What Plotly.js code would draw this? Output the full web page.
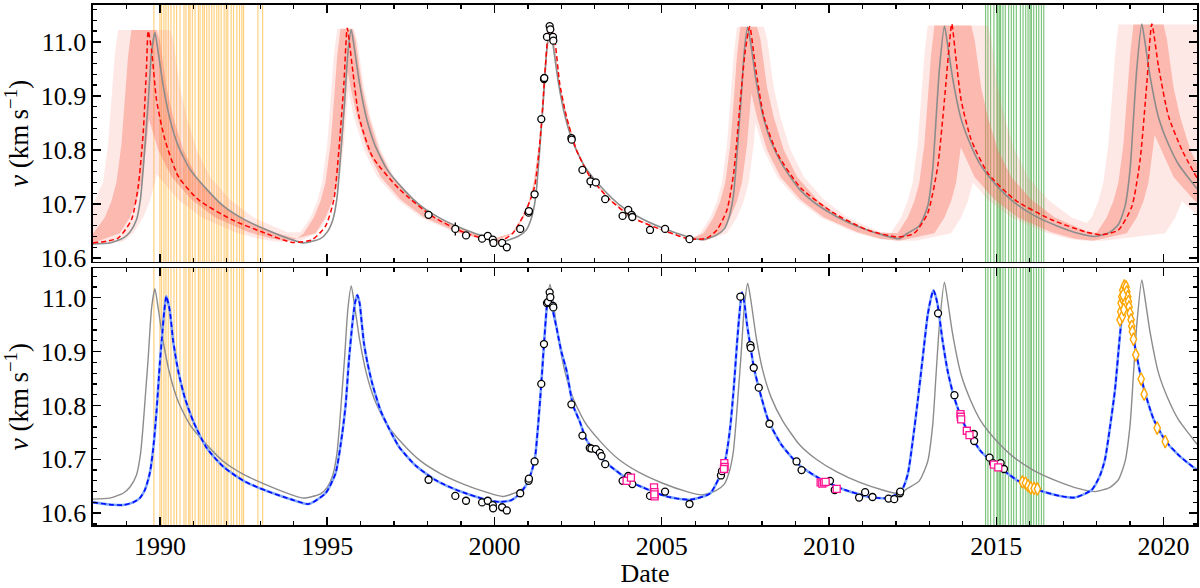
<!DOCTYPE html>
<html>
<head>
<meta charset="utf-8">
<script src="https://cdn.plot.ly/plotly-3.0.1.min.js"></script>
<style>
  body { margin: 0; background: #fff; }
  #plot { width: 1200px; height: 588px; }
</style>
</head>
<body>
<div id="plot"></div>
<script>
// ---- observation dates marked by vertical lines ----
const orangeDates = [1989.82, 1990.0, 1990.05, 1990.12, 1990.18, 1990.25, 1990.33, 1990.42, 1990.5, 1990.6,
    1990.72, 1990.78, 1990.86, 1990.9, 1990.97, 1991.05, 1991.15, 1991.2, 1991.28, 1991.33,
    1991.4, 1991.47, 1991.55, 1991.62, 1991.7, 1991.76, 1991.83, 1991.92, 1991.98, 1992.03,
    1992.13, 1992.2, 1992.3, 1992.38, 1992.45, 1992.5, 1992.93, 1993.07]
const greenDates = [2014.68, 2014.75, 2014.83, 2014.93, 2015.02, 2015.05, 2015.1, 2015.13, 2015.2, 2015.27,
    2015.37, 2015.45, 2015.52, 2015.6, 2015.72, 2015.8, 2015.88, 2015.95, 2016.01, 2016.05,
    2016.12, 2016.2, 2016.27, 2016.35, 2016.42]

// ---- top panel: posterior band (outer / inner envelopes) ----
const outerHiX = [
    1988.0, 1988.3, 1988.45, 1988.55, 1988.65, 1988.75, 1990.3, 1990.4, 1990.5, 1990.6, 1990.8, 1991.1, 1991.5, 1992.1, 1992.8, 1993.8,
    1994.2, 1994.5, 1994.7, 1994.85, 1995.0, 1995.1, 1995.2, 1995.3, 1995.8, 1995.9, 1996.0, 1996.1, 1996.3, 1996.6, 1997.0, 1997.6, 1998.3, 1999.3, 2000.0,
    2000.5, 2000.82, 2001.02, 2001.17, 2001.32, 2001.42, 2001.52, 2001.62, 2001.68, 2001.78, 2001.88, 2001.98, 2002.18, 2002.48, 2002.88, 2003.48, 2004.18, 2005.18, 2005.88,
    2006.15, 2006.45, 2006.65, 2006.8, 2006.95, 2007.05, 2007.15, 2007.25, 2008.05, 2008.15, 2008.25, 2008.35, 2008.55, 2008.85, 2009.25, 2009.85, 2010.55, 2011.55,
    2011.85, 2012.15, 2012.35, 2012.5, 2012.65, 2012.75, 2012.85, 2012.95, 2014.75, 2014.85, 2014.95, 2015.05, 2015.25, 2015.55, 2015.95, 2016.55, 2017.25,
    2017.7, 2017.85, 2018.05, 2018.2, 2018.35, 2018.45, 2018.55, 2018.65, 2021.0]
const outerHiV = [
    10.70, 10.74, 10.81, 10.89, 10.975, 11.022, 11.022, 11.003, 10.96, 10.915, 10.86, 10.80, 10.75, 10.708, 10.675, 10.648,
    10.648, 10.675, 10.705, 10.74, 10.81, 10.89, 10.975, 11.024, 11.024, 11.003, 10.96, 10.915, 10.86, 10.80, 10.75, 10.708, 10.675, 10.648, 10.636,
    10.646, 10.675, 10.705, 10.74, 10.81, 10.89, 10.975, 11.028, 11.028, 11.005, 10.96, 10.915, 10.86, 10.80, 10.75, 10.708, 10.675, 10.648, 10.636,
    10.646, 10.675, 10.705, 10.74, 10.81, 10.89, 10.975, 11.028, 11.028, 11.005, 10.96, 10.915, 10.86, 10.80, 10.75, 10.708, 10.675, 10.648,
    10.646, 10.675, 10.705, 10.74, 10.81, 10.89, 10.975, 11.03, 11.03, 11.005, 10.96, 10.915, 10.86, 10.80, 10.75, 10.708, 10.675,
    10.665, 10.675, 10.705, 10.74, 10.81, 10.89, 10.975, 11.032, 11.032]
const outerLoX = [
    1988.0, 1988.9, 1989.2, 1989.5, 1989.7, 1989.85, 1989.9, 1990.55, 1991.25, 1992.25, 1992.95, 1993.5,
    1994.2, 1994.7, 1995.0, 1995.2, 1995.35, 1995.5, 1995.63, 1995.8, 1996.1, 1996.5, 1997.1, 1997.8, 1998.8, 1999.5, 2000.0,
    2000.58, 2000.88, 2001.08, 2001.23, 2001.38, 2001.48, 2001.58, 2001.65, 2001.72, 2001.82, 2001.92, 2002.12, 2002.42, 2002.82, 2003.42, 2004.12, 2005.12, 2005.82, 2006.3,
    2006.95, 2007.25, 2007.45, 2007.6, 2007.75, 2007.8, 2008.05, 2008.45, 2009.05, 2009.75, 2010.75, 2011.45, 2012.0,
    2012.6, 2013.65, 2013.95, 2014.15, 2014.3, 2014.75, 2015.45, 2016.45, 2017.15, 2017.6,
    2018.2, 2020.05, 2020.35, 2020.55, 2021.0]
const outerLoV = [
    10.626, 10.63, 10.646, 10.675, 10.705, 10.74, 10.755, 10.708, 10.675, 10.648, 10.636, 10.630,
    10.632, 10.646, 10.675, 10.705, 10.74, 10.81, 10.91, 10.86, 10.80, 10.75, 10.708, 10.675, 10.648, 10.636, 10.630,
    10.646, 10.675, 10.705, 10.74, 10.81, 10.89, 10.975, 11.015, 11.005, 10.96, 10.915, 10.86, 10.80, 10.75, 10.708, 10.675, 10.648, 10.636, 10.632,
    10.646, 10.675, 10.705, 10.74, 10.81, 10.85, 10.80, 10.75, 10.708, 10.675, 10.648, 10.636, 10.632,
    10.632, 10.646, 10.675, 10.705, 10.74, 10.708, 10.675, 10.648, 10.636, 10.632,
    10.632, 10.646, 10.675, 10.705, 10.68]
const innerHiX = [
    1988.0, 1988.35, 1988.55, 1988.7, 1988.85, 1988.95, 1989.05, 1989.15, 1989.9, 1990.0, 1990.1, 1990.2, 1990.4, 1990.7, 1991.1, 1991.7, 1992.4, 1993.4, 1994.1,
    1994.3, 1994.6, 1994.8, 1994.95, 1995.1, 1995.2, 1995.3, 1995.4, 1995.75, 1995.85, 1995.95, 1996.05, 1996.25, 1996.55, 1996.95, 1997.55, 1998.25, 1999.25, 1999.95,
    2000.53, 2000.83, 2001.03, 2001.18, 2001.33, 2001.43, 2001.53, 2001.63, 2001.67, 2001.77, 2001.87, 2001.97, 2002.17, 2002.47, 2002.87, 2003.47, 2004.17, 2005.17, 2005.87,
    2006.25, 2006.55, 2006.75, 2006.9, 2007.05, 2007.15, 2007.25, 2007.35, 2007.85, 2007.95, 2008.05, 2008.15, 2008.35, 2008.65, 2009.05, 2009.65, 2010.35, 2011.35,
    2012.05, 2012.35, 2012.55, 2012.7, 2012.85, 2012.95, 2013.05, 2013.15, 2014.25, 2014.35, 2014.45, 2014.55, 2014.75, 2015.05, 2015.45, 2016.05, 2016.75, 2017.75,
    2018.0, 2018.3, 2018.5, 2018.65, 2018.8, 2018.9, 2019.0, 2019.1, 2020.0, 2020.1, 2020.2, 2020.3, 2020.5, 2020.8, 2021.0]
const innerHiV = [
    10.645, 10.675, 10.705, 10.74, 10.81, 10.89, 10.975, 11.022, 11.022, 11.003, 10.96, 10.915, 10.86, 10.80, 10.75, 10.708, 10.675, 10.648, 10.636,
    10.646, 10.675, 10.705, 10.74, 10.81, 10.89, 10.975, 11.024, 11.024, 11.003, 10.96, 10.915, 10.86, 10.80, 10.75, 10.708, 10.675, 10.648, 10.636,
    10.646, 10.675, 10.705, 10.74, 10.81, 10.89, 10.975, 11.028, 11.028, 11.005, 10.96, 10.915, 10.86, 10.80, 10.75, 10.708, 10.675, 10.648, 10.636,
    10.646, 10.675, 10.705, 10.74, 10.81, 10.89, 10.975, 11.028, 11.028, 11.005, 10.96, 10.915, 10.86, 10.80, 10.75, 10.708, 10.675, 10.648,
    10.646, 10.675, 10.705, 10.74, 10.81, 10.89, 10.975, 11.03, 11.03, 11.005, 10.96, 10.915, 10.86, 10.80, 10.75, 10.708, 10.675, 10.648,
    10.647, 10.675, 10.705, 10.74, 10.81, 10.89, 10.975, 11.032, 11.032, 11.005, 10.96, 10.915, 10.86, 10.80, 10.775]
const innerLoX = [
    1988.0, 1988.8, 1989.1, 1989.3, 1989.45, 1989.6, 1989.67, 1989.95, 1990.35, 1990.95, 1991.65, 1992.65, 1993.35, 1993.8,
    1994.65, 1994.95, 1995.15, 1995.3, 1995.45, 1995.55, 1995.62, 1995.7, 1995.9, 1996.2, 1996.6, 1997.2, 1997.9, 1998.9, 1999.6, 2000.0,
    2000.57, 2000.87, 2001.07, 2001.22, 2001.37, 2001.47, 2001.57, 2001.65, 2001.73, 2001.83, 2001.93, 2002.13, 2002.43, 2002.83, 2003.43, 2004.13, 2005.13, 2005.83, 2006.3,
    2006.75, 2007.05, 2007.25, 2007.4, 2007.55, 2007.68, 2007.85, 2008.15, 2008.55, 2009.15, 2009.85, 2010.85, 2011.55, 2012.1,
    2013.15, 2013.45, 2013.65, 2013.8, 2013.94, 2014.35, 2014.95, 2015.65, 2016.65, 2017.35, 2017.9,
    2018.9, 2019.2, 2019.4, 2019.55, 2019.7, 2019.73, 2020.3, 2020.9, 2021.0]
const innerLoV = [
    10.628, 10.646, 10.675, 10.705, 10.74, 10.81, 10.857, 10.80, 10.75, 10.708, 10.675, 10.648, 10.636, 10.631,
    10.646, 10.675, 10.705, 10.74, 10.81, 10.89, 10.945, 10.915, 10.86, 10.80, 10.75, 10.708, 10.675, 10.648, 10.636, 10.631,
    10.646, 10.675, 10.705, 10.74, 10.81, 10.89, 10.975, 11.018, 11.005, 10.96, 10.915, 10.86, 10.80, 10.75, 10.708, 10.675, 10.648, 10.636, 10.632,
    10.646, 10.675, 10.705, 10.74, 10.81, 10.905, 10.86, 10.80, 10.75, 10.708, 10.675, 10.648, 10.636, 10.632,
    10.646, 10.675, 10.705, 10.74, 10.805, 10.75, 10.708, 10.675, 10.648, 10.636, 10.632,
    10.646, 10.675, 10.705, 10.74, 10.81, 10.828, 10.75, 10.708, 10.703]

// ---- model curves ----
const grayX = [
    1988.0, 1988.5, 1988.9, 1989.1, 1989.3, 1989.42, 1989.5, 1989.58, 1989.65, 1989.75, 1989.85, 1989.95, 1990.1, 1990.3, 1990.55, 1990.9, 1991.4, 1991.9, 1992.5, 1993.2, 1993.9, 1994.3,
    1994.8, 1995.0, 1995.17, 1995.29, 1995.37, 1995.45, 1995.52, 1995.62, 1995.72, 1995.82, 1995.97, 1996.17, 1996.42, 1996.77, 1997.27, 1997.77, 1998.37, 1999.07, 1999.8, 2000.25,
    2000.7, 2000.95, 2001.11, 2001.23, 2001.31, 2001.39, 2001.46, 2001.56, 2001.66, 2001.76, 2001.91, 2002.11, 2002.36, 2002.71, 2003.21, 2003.71, 2004.31, 2005.01, 2005.75, 2006.2,
    2006.62, 2006.87, 2007.02, 2007.14, 2007.22, 2007.3, 2007.37, 2007.47, 2007.57, 2007.67, 2007.82, 2008.02, 2008.27, 2008.62, 2009.12, 2009.62, 2010.22, 2010.92, 2011.65, 2012.1,
    2012.35, 2012.7, 2012.95, 2013.1, 2013.2, 2013.3, 2013.45, 2013.55, 2013.7, 2013.95, 2014.25, 2014.55, 2015.0, 2015.5, 2016.1, 2016.8, 2017.5, 2017.95,
    2018.4, 2018.65, 2018.85, 2019.0, 2019.1, 2019.2, 2019.35, 2019.45, 2019.6, 2019.85, 2020.15, 2020.45, 2020.75, 2021.0]
const grayV = [
    10.626, 10.628, 10.637, 10.648, 10.671, 10.71, 10.764, 10.83, 10.888, 10.98, 11.017, 10.98, 10.918, 10.857, 10.807, 10.764, 10.727, 10.696, 10.672, 10.652, 10.635, 10.628,
    10.636, 10.648, 10.671, 10.71, 10.764, 10.83, 10.888, 10.98, 11.022, 10.985, 10.922, 10.86, 10.81, 10.766, 10.728, 10.698, 10.674, 10.654, 10.638, 10.631,
    10.640, 10.652, 10.675, 10.712, 10.766, 10.832, 10.89, 10.982, 11.025, 10.99, 10.925, 10.862, 10.812, 10.768, 10.73, 10.70, 10.676, 10.656, 10.64, 10.634,
    10.642, 10.654, 10.677, 10.714, 10.768, 10.834, 10.892, 10.984, 11.027, 10.993, 10.928, 10.865, 10.815, 10.771, 10.727, 10.700, 10.677, 10.657, 10.642, 10.636,
    10.646, 10.66, 10.696, 10.764, 10.857, 10.949, 11.029, 10.993, 10.931, 10.857, 10.807, 10.770, 10.735, 10.705, 10.68, 10.66, 10.645, 10.640,
    10.648, 10.662, 10.696, 10.764, 10.857, 10.95, 11.033, 10.997, 10.935, 10.86, 10.81, 10.773, 10.748, 10.728]
const redX = [
    1988.0, 1988.75, 1989.15, 1989.35, 1989.5, 1989.6, 1989.65, 1989.75, 1989.9, 1990.15, 1990.55, 1991.15, 1992.15, 1993.15, 1993.95,
    1994.55, 1994.95, 1995.2, 1995.35, 1995.5, 1995.6, 1995.75, 1995.95, 1996.35, 1997.15, 1998.15, 1999.15, 2000.15,
    2000.55, 2000.95, 2001.2, 2001.4, 2001.5, 2001.6, 2001.65, 2001.8, 2001.95, 2002.15, 2002.45, 2002.85, 2003.45, 2004.15, 2005.15, 2005.85,
    2006.35, 2006.65, 2006.95, 2007.15, 2007.35, 2007.5, 2007.63, 2007.8, 2008.05, 2008.45, 2009.15, 2010.15, 2011.15, 2012.05,
    2012.55, 2012.95, 2013.25, 2013.45, 2013.6, 2013.67, 2013.8, 2013.95, 2014.25, 2014.75, 2015.55, 2016.65, 2017.65, 2018.15,
    2018.65, 2019.05, 2019.3, 2019.5, 2019.65, 2019.85, 2020.15, 2020.55, 2021.0]
const redV = [
    10.628, 10.637, 10.671, 10.732, 10.831, 10.954, 11.02, 10.985, 10.892, 10.819, 10.751, 10.708, 10.671, 10.646, 10.629,
    10.634, 10.659, 10.708, 10.80, 10.923, 11.025, 10.954, 10.862, 10.788, 10.728, 10.677, 10.646, 10.631,
    10.646, 10.689, 10.732, 10.843, 10.935, 11.015, 11.031, 11.003, 10.923, 10.862, 10.80, 10.751, 10.708, 10.674, 10.649, 10.635,
    10.637, 10.652, 10.689, 10.757, 10.892, 10.985, 11.028, 10.954, 10.862, 10.794, 10.73, 10.683, 10.652, 10.639,
    10.646, 10.683, 10.77, 10.892, 10.997, 11.033, 10.966, 10.892, 10.819, 10.757, 10.708, 10.671, 10.649, 10.643,
    10.652, 10.695, 10.782, 10.923, 11.033, 10.954, 10.862, 10.80, 10.748]
const blueX = [
    1988.0, 1988.5, 1988.9, 1989.2, 1989.4, 1989.55, 1989.7, 1989.8, 1989.9, 1990.0, 1990.08, 1990.13, 1990.19, 1990.25, 1990.3, 1990.4, 1990.55, 1990.75, 1991.0, 1991.4, 1991.9, 1992.5, 1993.2, 1994.0,
    1994.45, 1994.95, 1995.25, 1995.45, 1995.55, 1995.65, 1995.75, 1995.83, 1995.9, 1995.97, 1996.03, 1996.1, 1996.2, 1996.35, 1996.6, 1996.85, 1997.15, 1997.65, 1998.25, 1998.95, 1999.7, 2000.15,
    2000.5, 2000.77, 2001.0, 2001.2, 2001.3, 2001.4, 2001.48, 2001.56, 2001.62, 2001.68, 2001.75, 2001.85, 2002.0, 2002.15, 2002.35, 2002.55, 2002.75, 2003.0, 2003.35, 2004.15, 2005.15, 2005.85,
    2006.45, 2006.85, 2006.95, 2007.05, 2007.15, 2007.25, 2007.33, 2007.4, 2007.47, 2007.55, 2007.65, 2007.75, 2007.9, 2008.2, 2008.6, 2009.1, 2009.7, 2010.4, 2011.2, 2011.75,
    2012.15, 2012.35, 2012.5, 2012.65, 2012.8, 2012.95, 2013.05, 2013.12, 2013.18, 2013.25, 2013.4, 2013.55, 2013.75, 2014.05, 2014.55, 2015.1, 2015.65, 2016.3, 2016.9, 2017.35,
    2017.85, 2018.1, 2018.25, 2018.4, 2018.55, 2018.68, 2018.77, 2018.85, 2018.92, 2019.0, 2019.1, 2019.3, 2019.45, 2019.7, 2020.05, 2020.5, 2021.0]
const blueV = [
    10.620, 10.616, 10.615, 10.620, 10.628, 10.643, 10.675, 10.72, 10.79, 10.88, 10.94, 10.975, 11.003, 10.99, 10.974, 10.918, 10.863, 10.813, 10.770, 10.721, 10.686, 10.660, 10.641, 10.624,
    10.617, 10.637, 10.674, 10.748, 10.80, 10.884, 10.95, 10.99, 11.005, 10.99, 10.955, 10.915, 10.88, 10.84, 10.79, 10.757, 10.723, 10.688, 10.661, 10.641, 10.626, 10.621,
    10.624, 10.637, 10.658, 10.698, 10.76, 10.84, 10.914, 10.98, 11.011, 11.0, 10.975, 10.946, 10.90, 10.866, 10.80, 10.77, 10.736, 10.715, 10.693, 10.656, 10.631, 10.625,
    10.637, 10.686, 10.715, 10.761, 10.83, 10.915, 10.975, 11.01, 10.99, 10.95, 10.91, 10.872, 10.833, 10.77, 10.725, 10.69, 10.665, 10.645, 10.63, 10.628,
    10.640, 10.671, 10.733, 10.807, 10.888, 10.968, 11.0, 11.014, 11.005, 10.986, 10.918, 10.863, 10.813, 10.764, 10.714, 10.685, 10.660, 10.642, 10.632, 10.629,
    10.643, 10.67, 10.70, 10.76, 10.83, 10.92, 10.975, 11.012, 11.0, 10.96, 10.925, 10.86, 10.823, 10.775, 10.735, 10.705, 10.68]

// ---- measurements ----
const topObsX = [1998.03, 1998.83, 1999.15, 1999.63, 1999.80, 1999.95, 1999.97, 2000.23, 2000.37, 2000.77,
    2001.02, 2001.03, 2001.20, 2001.40, 2001.48, 2001.49, 2001.57, 2001.65, 2001.67, 2001.75,
    2001.76, 2002.30, 2002.31, 2002.63, 2002.87, 2003.03, 2003.31, 2003.83, 2004.00, 2004.10,
    2004.12, 2004.65, 2005.10, 2005.83]
const topObsV = [10.680, 10.654, 10.642, 10.636, 10.641, 10.634, 10.628, 10.628, 10.620, 10.654,
    10.684, 10.687, 10.718, 10.857, 10.931, 10.933, 11.009, 11.029, 11.023, 11.009,
    11.002, 10.822, 10.819, 10.763, 10.742, 10.740, 10.709, 10.678, 10.689, 10.680,
    10.676, 10.652, 10.654, 10.635]
const topObsErr = [0.004, 0.012, 0.004, 0.004, 0.004, 0.004, 0.004, 0.004, 0.004, 0.004,
    0.004, 0.004, 0.004, 0.004, 0.004, 0.004, 0.004, 0.004, 0.004, 0.004,
    0.004, 0.004, 0.004, 0.004, 0.012, 0.004, 0.004, 0.004, 0.004, 0.004,
    0.004, 0.004, 0.004, 0.004]
const botObsX = [1998.03, 1998.83, 1999.15, 1999.63, 1999.80, 1999.95, 1999.96, 2000.23, 2000.37, 2000.77,
    2001.02, 2001.03, 2001.20, 2001.40, 2001.48, 2001.57, 2001.60, 2001.65, 2001.67, 2001.75,
    2001.76, 2002.30, 2002.63, 2002.85, 2002.90, 2003.03, 2003.15, 2003.20, 2003.31, 2003.83,
    2004.00, 2004.12, 2004.65, 2005.10, 2005.83, 2006.77, 2006.80, 2007.35, 2007.65, 2007.66,
    2007.75, 2007.90, 2008.22, 2009.03, 2009.18, 2010.03, 2010.17, 2010.90, 2011.08, 2011.30,
    2011.78, 2011.95, 2012.12, 2012.13, 2013.26, 2013.75, 2014.33, 2014.34, 2014.80, 2014.90,
    2015.13, 2015.23]
const botObsV = [10.662, 10.632, 10.623, 10.620, 10.623, 10.615, 10.609, 10.611, 10.605, 10.637,
    10.660, 10.664, 10.696, 10.840, 10.914, 10.990, 10.992, 11.010, 11.001, 10.985,
    10.982, 10.802, 10.744, 10.721, 10.720, 10.719, 10.712, 10.706, 10.691, 10.660,
    10.669, 10.654, 10.632, 10.640, 10.617, 10.670, 10.678, 11.002, 10.912, 10.907,
    10.870, 10.833, 10.766, 10.696, 10.680, 10.660, 10.643, 10.629, 10.639, 10.630,
    10.627, 10.626, 10.637, 10.640, 10.971, 10.819, 10.747, 10.734, 10.703, 10.693,
    10.693, 10.682]
const squareX = [2003.95, 2004.08, 2004.77, 2004.78, 2004.79, 2004.78, 2006.87, 2006.88, 2006.86, 2009.75,
    2009.80, 2009.85, 2009.90, 2010.23, 2013.93, 2013.94, 2013.95, 2014.12, 2014.20, 2014.93, 2015.06]
const squareV = [10.660, 10.666, 10.648, 10.639, 10.631, 10.635, 10.693, 10.686, 10.682, 10.657,
    10.655, 10.657, 10.658, 10.645, 10.784, 10.779, 10.774, 10.753, 10.745, 10.690, 10.685]
const diamondX = [2015.78, 2015.87, 2015.95, 2016.03, 2016.13, 2016.23,
    2018.70, 2018.72, 2018.73, 2018.75, 2018.78, 2018.80, 2018.83, 2018.85, 2018.88, 2018.90,
    2018.93, 2018.95, 2018.97, 2019.00, 2019.03, 2019.05, 2019.07, 2019.10,
    2018.77, 2018.81, 2018.79, 2019.17, 2019.33, 2019.42, 2019.81, 2020.05]
const diamondV = [10.658, 10.656, 10.651, 10.647, 10.646, 10.645,
    10.959, 10.974, 10.990, 11.002, 11.014, 10.995, 11.022, 10.990, 11.020, 11.011,
    11.002, 10.993, 10.983, 10.971, 10.959, 10.947, 10.937, 10.923,
    10.966, 10.978, 11.005, 10.894, 10.849, 10.821, 10.758, 10.733]

function band(hiX, hiV, loX, loV){
    return {
        x: hiX.concat(loX.slice().reverse()),
        y: hiV.concat(loV.slice().reverse())
    }
}

function plot(){
    const
        serif = "'Liberation Serif', 'Times New Roman', serif",
        outer = band(outerHiX, outerHiV, outerLoX, outerLoV),
        inner = band(innerHiX, innerHiV, innerLoX, innerLoV),
        circle = {symbol: "circle", size: 7, color: "#fff", line: {color: "#000", width: 1.3}},
        data = [
            // top panel
            {x: outer.x, y: outer.y, xaxis: "x2", yaxis: "y2", mode: "lines", fill: "toself",
             fillcolor: "rgba(250,128,114,0.18)", line: {width: 0}},
            {x: inner.x, y: inner.y, xaxis: "x2", yaxis: "y2", mode: "lines", fill: "toself",
             fillcolor: "rgba(250,120,100,0.42)", line: {width: 0}},
            {x: grayX, y: grayV, xaxis: "x2", yaxis: "y2", mode: "lines",
             line: {color: "#8c8c8c", width: 1.6, shape: "spline", smoothing: 0.6}},
            {x: redX, y: redV, xaxis: "x2", yaxis: "y2", mode: "lines",
             line: {color: "#ff0000", width: 1.5, dash: "5px,3px", shape: "spline", smoothing: 0.6}},
            {x: topObsX, y: topObsV, xaxis: "x2", yaxis: "y2", mode: "markers",
             error_y: {type: "data", array: topObsErr, color: "#000", thickness: 1.3, width: 0},
             marker: circle},
            // bottom panel
            {x: grayX, y: grayV, mode: "lines",
             line: {color: "#8c8c8c", width: 1.4, shape: "spline", smoothing: 0.6}},
            {x: blueX, y: blueV, mode: "lines",
             line: {color: "#7ea6ff", width: 2.6, shape: "spline", smoothing: 0.6}},
            {x: blueX, y: blueV, mode: "lines",
             line: {color: "#0010ff", width: 1.7, dash: "5px,3px", shape: "spline", smoothing: 0.6}},
            {x: botObsX, y: botObsV, mode: "markers", marker: circle},
            {x: squareX, y: squareV, mode: "markers",
             marker: {symbol: "square", size: 7, color: "#fff", line: {color: "#ff1493", width: 1.3}}},
            {x: diamondX, y: diamondV, mode: "markers",
             marker: {symbol: "diamond-tall", size: 9, color: "#fff", line: {color: "#ffa500", width: 1.4}}}
        ],
        shapes = []

    for (const d of orangeDates){
        for (const [xr, yr] of [["x", "y domain"], ["x2", "y2 domain"]]){
            shapes.push({type: "line", xref: xr, yref: yr, x0: d, x1: d, y0: 0, y1: 1, layer: "below",
                line: {color: "rgba(255,170,20,0.55)", width: 1.2}})
        }
    }
    for (const d of greenDates){
        for (const [xr, yr] of [["x", "y domain"], ["x2", "y2 domain"]]){
            shapes.push({type: "line", xref: xr, yref: yr, x0: d, x1: d, y0: 0, y1: 1, layer: "below",
                line: {color: "rgba(40,160,40,0.6)", width: 1.2}})
        }
    }

    const
        axisBase = {
            ticks: "inside", ticklen: 8, tickwidth: 1.5, tickcolor: "#000",
            showline: true, linewidth: 1.6, linecolor: "#000", mirror: "allticks",
            showgrid: false, zeroline: false, tickfont: {family: serif, size: 26, color: "#000"}
        },
        xBase = Object.assign({}, axisBase, {
            range: [1988, 2021], tick0: 1990, dtick: 5, ticklabelstandoff: -3,
            minor: {dtick: 1, ticks: "inside", ticklen: 4, tickwidth: 1.2, tickcolor: "#000"}
        }),
        yBase = Object.assign({}, axisBase, {
            tick0: 10.6, dtick: 0.1, tickformat: ".1f",
            minor: {dtick: 0.02, ticks: "inside", ticklen: 4, tickwidth: 1.2, tickcolor: "#000"},
            title: {text: "<i>v</i> (km\u2009s<sup>\u22121</sup>)", font: {family: serif, size: 27, color: "#000"}, standoff: 8}
        }),
        layout = {
            width: 1200, height: 588,
            margin: {l: 93, r: 3, t: 5, b: 63},
            showlegend: false,
            paper_bgcolor: "#fff", plot_bgcolor: "#fff",
            font: {family: serif, size: 26, color: "#000"},
            xaxis: Object.assign({}, xBase, {anchor: "y", domain: [0, 1],
                title: {text: "Date", font: {family: serif, size: 26, color: "#000"}, standoff: 9}}),
            xaxis2: Object.assign({}, xBase, {anchor: "y2", matches: "x", showticklabels: false}),
            yaxis: Object.assign({}, yBase, {anchor: "x", domain: [0, 0.494], range: [10.578, 11.055]}),
            yaxis2: Object.assign({}, yBase, {anchor: "x2", domain: [0.506, 1], range: [10.593, 11.068]}),
            shapes: shapes
        }

    Plotly.newPlot("plot", data, layout, {displayModeBar: false, staticPlot: true})
}

plot()
</script>
</body>
</html>
